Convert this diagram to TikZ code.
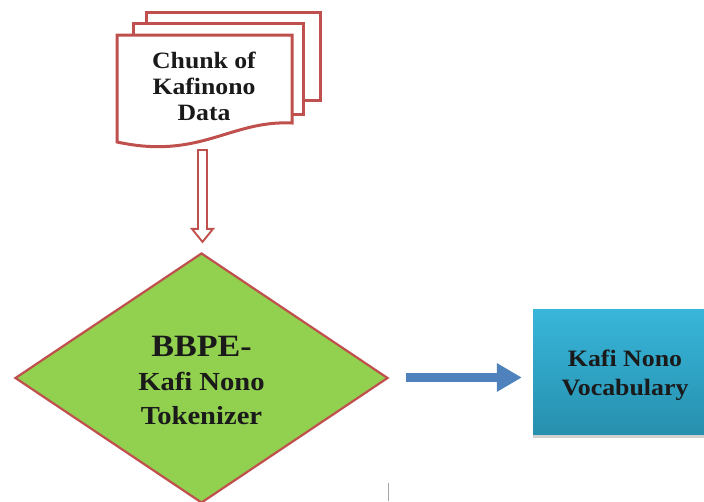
\documentclass[tikz,border=0pt]{standalone}
\usepackage{fontspec}
\setmainfont{Liberation Serif}[FakeStretch=1.1]
\usetikzlibrary{shapes.geometric,arrows.meta,calc,shadows}
\definecolor{pagered}{HTML}{C0504D}
\definecolor{tokgreen}{HTML}{92D050}
\definecolor{flowblue}{HTML}{4F81BD}
\definecolor{voctop}{HTML}{38B6DA}
\definecolor{vocbot}{HTML}{2790AE}
\definecolor{inkblack}{HTML}{1A1A1A}
\begin{document}
\begin{tikzpicture}[x=1pt,y=-1pt,
  page/.style={draw=pagered, line width=3pt, fill=white, line join=miter},
  doctext/.style={align=center, text=inkblack, inner sep=0pt,
    font=\bfseries\fontsize{23.4}{26}\selectfont},
  tokshape/.style={diamond, draw=pagered, line width=2.2pt, fill=tokgreen,
    minimum width=373pt, minimum height=250pt, aspect=1.49, inner sep=0pt,
    align=center, text=inkblack, font=\bfseries\fontsize{26}{34}\selectfont},
  vocbox/.style={rectangle, minimum width=184pt, minimum height=125pt,
    top color=voctop, bottom color=vocbot, inner sep=0pt,
    drop shadow={shadow xshift=0pt, shadow yshift=-4pt, fill=black, opacity=0.18},
    align=center, text=inkblack, font=\bfseries\fontsize{23.5}{29}\selectfont},
  hollowarrow/.style={draw=pagered, line width=1.9pt, fill=white, line join=miter},
  flowarrow/.style={draw=flowblue, line width=9pt,
    -{Triangle[length=25pt, width=27pt]}}
]
\useasboundingbox (0,0) rectangle (704,501);
\clip (0,0) rectangle (704,501);

% stack of data pages (back to front)
\draw[page] (146,12) rectangle (320,100);
\draw[page] (133,23) rectangle (303,114);
\draw[page] (117,35) -- (292,35) -- (292,123)
  .. controls (230,120) and (200,160) .. (117,142) -- cycle;
\node[doctext] (doc) at (204,86) {Chunk of\\Kafinono\\Data};
\coordinate (docfoot) at (202.5,150);

% tokenizer decision shape
\node[tokshape] (tok) at (201.5,378)
  {{\fontsize{31}{34}\selectfont\rule{0pt}{26pt}BBPE-}\\Kafi Nono\\Tokenizer};

% vocabulary box
\node[vocbox] (voc) at (625,371.5) {\rule{0pt}{25pt}Kafi Nono\\Vocabulary};

% hollow block arrow from the data to the tokenizer
\coordinate (tip) at ($(tok.north)+(1,-10)$);
\draw[hollowarrow]
  ($(docfoot)+(-4.5,0)$) -- ($(docfoot|-tip)+(-4.5,-13)$)
  -- ($(docfoot|-tip)+(-10.5,-13)$) -- (docfoot|-tip)
  -- ($(docfoot|-tip)+(10.5,-13)$) -- ($(docfoot|-tip)+(4.5,-13)$)
  -- ($(docfoot)+(4.5,0)$) -- cycle;

% tokenizer output to vocabulary
\draw[flowarrow] ($(tok.east)+(17,-0.5)$) -- ($(voc.west)+(-11,6)$);

% stray rule at the bottom edge
\draw[gray!70, line width=1.6pt] (388.5,483) -- (388.5,501);
\end{tikzpicture}
\end{document}
